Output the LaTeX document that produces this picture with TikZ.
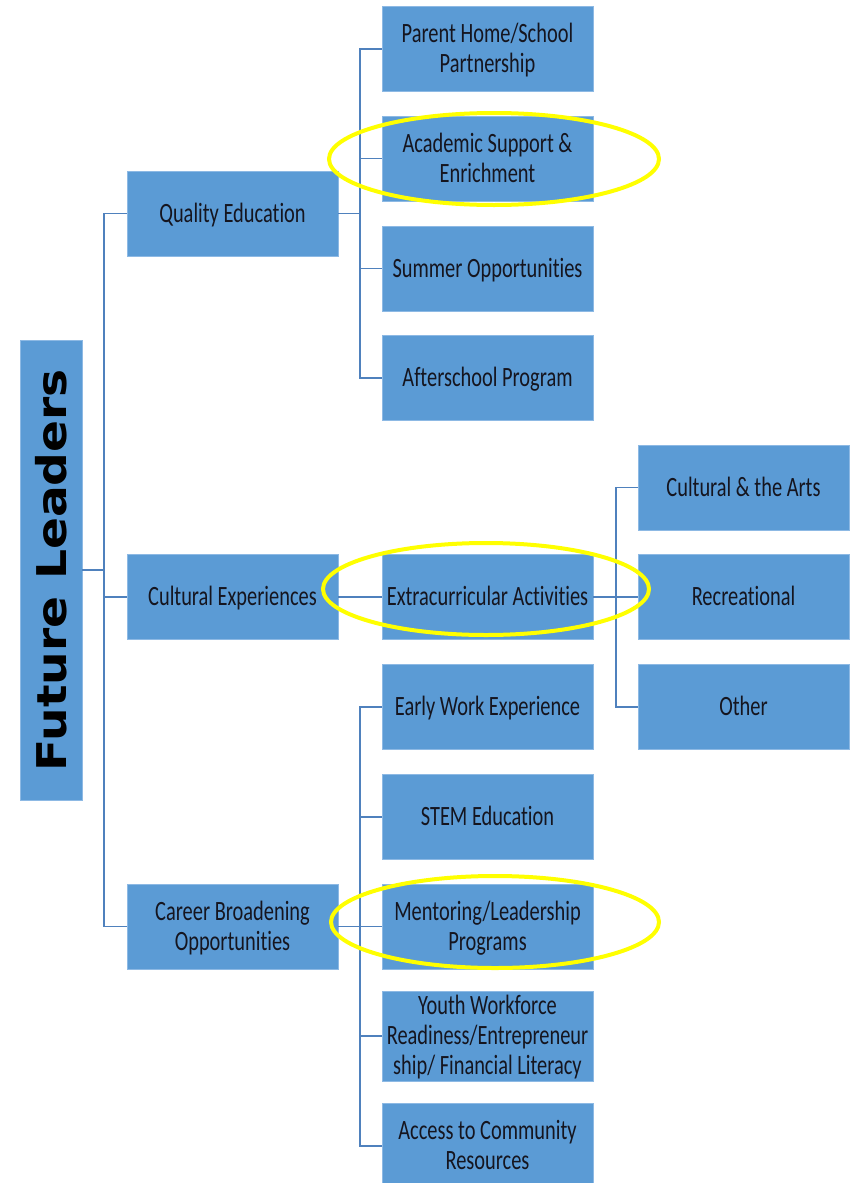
\documentclass[tikz,border=0pt]{standalone}
\usepackage{fontspec}
\usepackage{graphicx}
\setmainfont{Carlito}[RawFeature={-liga;-clig;-calt;-dlig}]
\newfontfamily\titlefont{DejaVu Sans}
\definecolor{boxblue}{HTML}{5B9BD5}
\definecolor{boxedge}{HTML}{8DB9E4}
\definecolor{conncol}{HTML}{4F81BD}
\definecolor{txtcol}{HTML}{15151F}
\definecolor{hiyellow}{HTML}{FFFF00}
\newcommand{\bt}[1]{\raisebox{-2.5pt}[\height][\depth]{\scalebox{1}[1.37]{\fontsize{20.4}{21.9}\selectfont\begin{tabular}{@{}c@{}}#1\end{tabular}}}}
\begin{document}
\begin{tikzpicture}[x=1pt,y=-1pt,
  box/.style={rectangle, fill=boxblue, draw=boxedge, line width=0.8pt,
    minimum width=211pt, minimum height=85pt, inner sep=0pt, text=txtcol},
  conn/.style={draw=conncol, line width=1.7pt},
  hilite/.style={draw=hiyellow, line width=4pt}]
\useasboundingbox (0,0) rectangle (853,1183);

% root
\node[box, rotate=90, minimum width=460pt, minimum height=62pt, text=black] (root) at (51,570)
  {\scalebox{1.15}[1]{\titlefont\bfseries\fontsize{41}{41}\selectfont Future Leaders}};

% level 1
\node[box] (qe) at (232.5,213.5) {\bt{Quality Education}};
\node[box] (ce) at (232.5,597) {\bt{Cultural Experiences}};
\node[box] (cb) at (232.5,926.5) {\bt{Career Broadening\\Opportunities}};

% level 2
\node[box] (a1) at (487.5,49) {\bt{Parent Home/School\\Partnership}};
\node[box] (a2) at (487.5,158.5) {\bt{Academic Support \&\\Enrichment}};
\node[box] (a3) at (487.5,268.5) {\bt{Summer Opportunities}};
\node[box] (a4) at (487.5,378) {\bt{Afterschool Program}};
\node[box] (ex) at (487.5,597) {\bt{Extracurricular Activities}};
\node[box] (b1) at (487.5,707) {\bt{Early Work Experience}};
\node[box] (b2) at (487.5,817) {\bt{STEM Education}};
\node[box] (b3) at (487.5,926.5) {\bt{Mentoring/Leadership\\Programs}};
\node[box] (b4) at (487.5,1036) {\bt{Youth Workforce\\Readiness/Entrepreneur\\ship/ Financial Literacy}};
\node[box] (b5) at (487.5,1146) {\bt{Access to Community\\Resources}};

% level 3
\node[box] (c1) at (743.5,487.5) {\bt{Cultural \& the Arts}};
\node[box] (c2) at (743.5,597) {\bt{Recreational}};
\node[box] (c3) at (743.5,707) {\bt{Other}};

% junctions
\coordinate (j0) at (104,570);
\coordinate (j1) at (360,213.5);
\coordinate (j2) at (616,597);
\coordinate (j3) at (360,926.5);

% connectors
\draw[conn] (root.south) -- (j0);
\draw[conn] (qe.west) -| (j0) |- (cb.west);
\draw[conn] (ce.west) -- (ce.west -| j0);

\draw[conn] (qe.east) -- (j1);
\draw[conn] (a1.west) -| (j1) |- (a4.west);
\draw[conn] (a2.west) -- (a2.west -| j1);
\draw[conn] (a3.west) -- (a3.west -| j1);

\draw[conn] (ce.east) -- (ex.west);
\draw[conn] (ex.east) -- (j2);
\draw[conn] (c1.west) -| (j2) |- (c3.west);
\draw[conn] (c2.west) -- (j2);

\draw[conn] (cb.east) -- (j3);
\draw[conn] (b1.west) -| (j3) |- (b5.west);
\draw[conn] (b2.west) -- (b2.west -| j3);
\draw[conn] (b4.west) -- (b4.west -| j3);
\draw[conn] (b3.west) -- (b3.west -| j3);

% highlights
\draw[hilite] (494,159) ellipse [x radius=165, y radius=46];
\draw[hilite] (486,589) ellipse [x radius=163, y radius=46];
\draw[hilite] (495,922) ellipse [x radius=164, y radius=46];
\end{tikzpicture}
\end{document}
